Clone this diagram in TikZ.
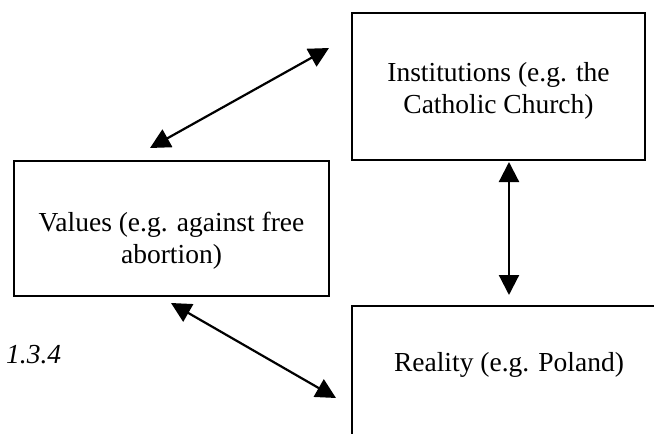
\documentclass[tikz,border=0pt]{standalone}
\usepackage{fontspec}
\setmainfont{Liberation Serif}
\usetikzlibrary{arrows.meta}
\begin{document}
\begin{tikzpicture}[x=1pt,y=-1pt,
  box/.style={draw,line width=2.5pt,rectangle,inner sep=0pt},
  txt/.style={inner sep=0pt,align=center,font=\fontsize{27.5}{32}\selectfont},
  link/.style={line width=2.2pt,{Triangle[length=20pt,width=20pt]}-{Triangle[length=20pt,width=20pt]}}]
\useasboundingbox (0,0) rectangle (654,434);
\clip (0,0) rectangle (654,434);
\node[box,minimum width=293pt,minimum height=147pt] (inst) at (498.5,86.5) {};
\node[box,minimum width=315pt,minimum height=135pt] (values) at (171.5,228.5) {};
\node[box,minimum width=314pt,minimum height=160pt] (reality) at (509,386) {};
\node[txt] (insttext) at (498.5,91) {Institutions (e.g. the\\Catholic Church)};
\node[txt] (valtext) at (171.5,241) {Values (e.g. against free\\abortion)};
\node[txt] (realtext) at (509,365) {Reality (e.g. Poland)};
\node[txt,anchor=west,font=\fontsize{27.5}{32}\selectfont\itshape] (num) at (6,355) {1.3.4};
\coordinate (a1) at (150,148);
\coordinate (b1) at (329,48);
\coordinate (a2) at (509,162);
\coordinate (b2) at (509,295);
\coordinate (a3) at (171,303);
\coordinate (b3) at (336,398);
\draw[link] (a1) -- (b1);
\draw[link] (a2) -- (b2);
\draw[link] (a3) -- (b3);
\end{tikzpicture}
\end{document}
